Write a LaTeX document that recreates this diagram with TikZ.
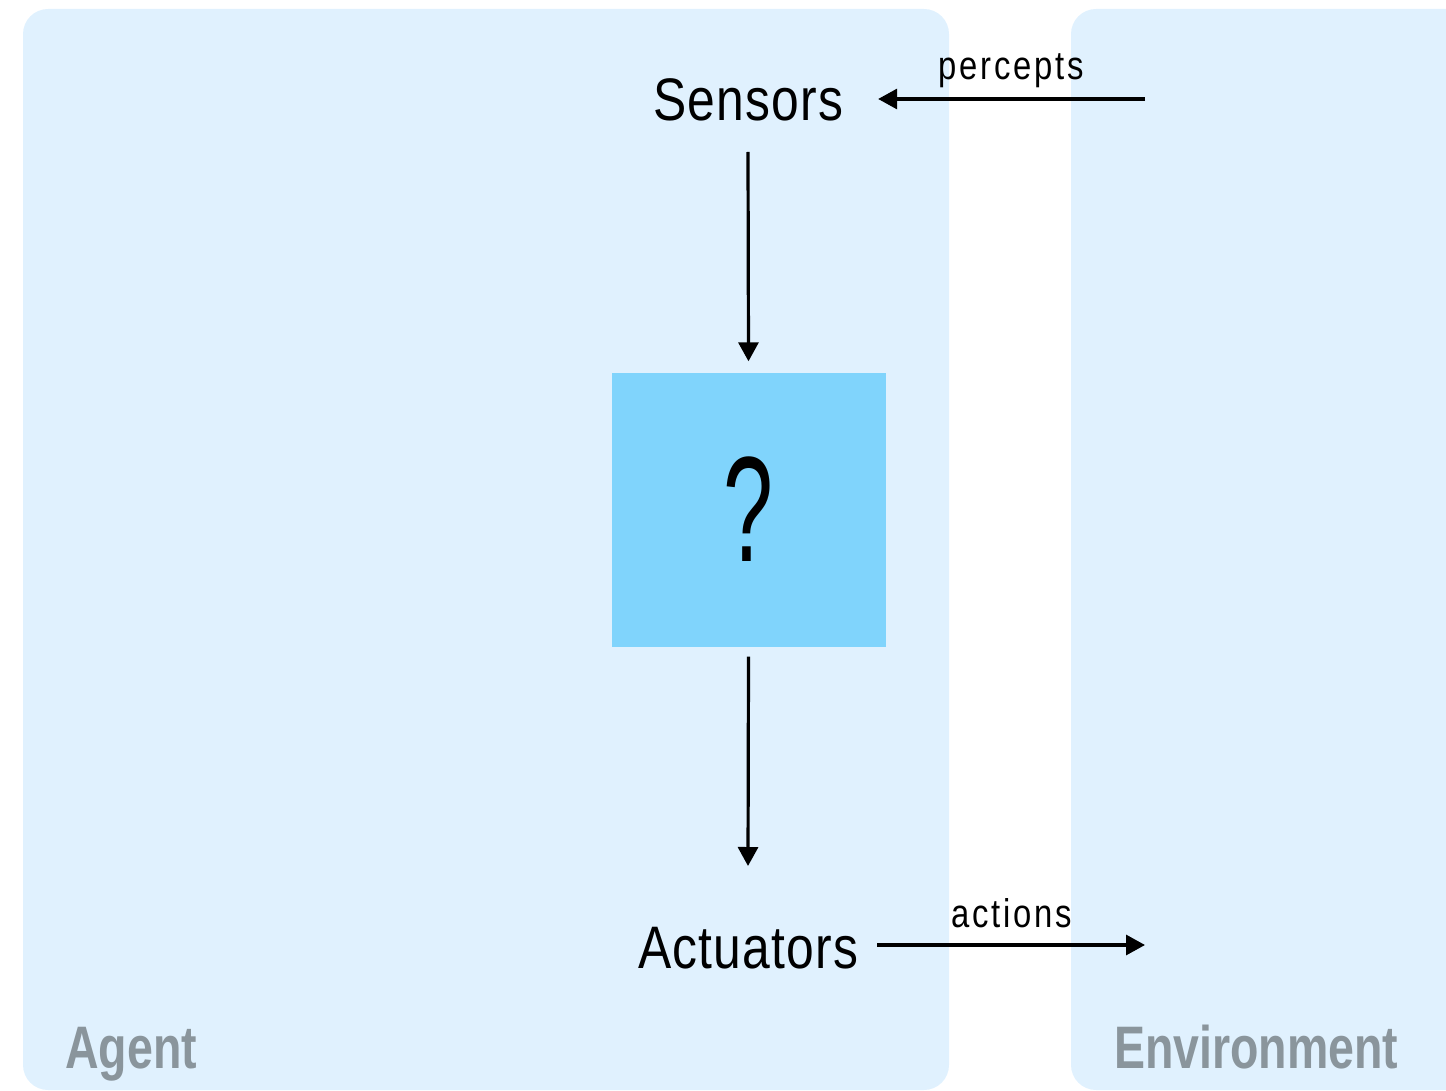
\documentclass[tikz,border=0pt]{standalone}
\usepackage{graphicx}
\usepackage{fontspec}
\setmainfont{Liberation Sans}[FakeStretch=0.83,LetterSpace=2]
\newfontfamily\labelfont{Liberation Sans}[FakeStretch=0.82,LetterSpace=7]
\newfontfamily\titlefont{Liberation Sans}[FakeStretch=0.78,BoldFont=* Bold,BoldFeatures={FakeStretch=0.775}]
\usetikzlibrary{arrows.meta}
\definecolor{panelblue}{HTML}{E0F1FE}
\definecolor{boxblue}{HTML}{80D4FC}
\definecolor{titlegray}{HTML}{8A959C}
\tikzset{
  panel/.style={fill=panelblue, draw=none, rounded corners=25pt},
  part/.style={inner sep=0pt, anchor=base, font=\fontsize{60}{60}\selectfont},
  flowlabel/.style={inner sep=0pt, anchor=base, font=\labelfont\fontsize{40}{40}\selectfont},
  title/.style={inner sep=0pt, anchor=base west, text=titlegray, font=\titlefont\bfseries\fontsize{60}{60}\selectfont},
  flow/.style={line width=3.2pt, -{Triangle[length=19pt,width=20pt]}},
}
\begin{document}
\begin{tikzpicture}[x=1pt,y=-1pt]
  \useasboundingbox (0,0) rectangle (1446,1091);
  \clip (0,0) rectangle (1446,1091);
  % the two regions
  \fill[panel] (23,9) rectangle (949,1090);
  \fill[panel] (1071,9) rectangle (1500,1090);
  \node[title] (agent) at (65,1068) {Agent};
  \node[title] (env) at (1114,1068) {Environment};
  % agent internals
  \node[part] (sensors) at (748,121) {Sensors};
  \node[fill=boxblue, minimum width=274pt, minimum height=274pt, inner sep=0pt] (program) at (748.5,509.5) {};
  \node[inner sep=0pt, font=\fontsize{150}{150}\selectfont] (qm) at (program.center) {\scalebox{0.72}[1]{?}};
  \node[part] (actuators) at (748,968) {Actuators};
  % environment-side ends of the flows
  \coordinate (envout) at (1145,99);
  \coordinate (envin) at (1145,945);
  % flows
  \draw[flow] (envout) -- ([xshift=35pt]sensors.east |- envout);
  \node[flowlabel] (percepts) at (1011,80) {percepts};
  \draw[flow] (sensors.south |- 0,152) -- ([yshift=11pt]program.north);
  \draw[flow] ([yshift=-10pt]program.south) -- (actuators.north |- 0,866);
  \draw[flow] ([xshift=19pt]actuators.east |- envin) -- (envin);
  \node[flowlabel] (actions) at (1012,927) {actions};
\end{tikzpicture}
\end{document}
